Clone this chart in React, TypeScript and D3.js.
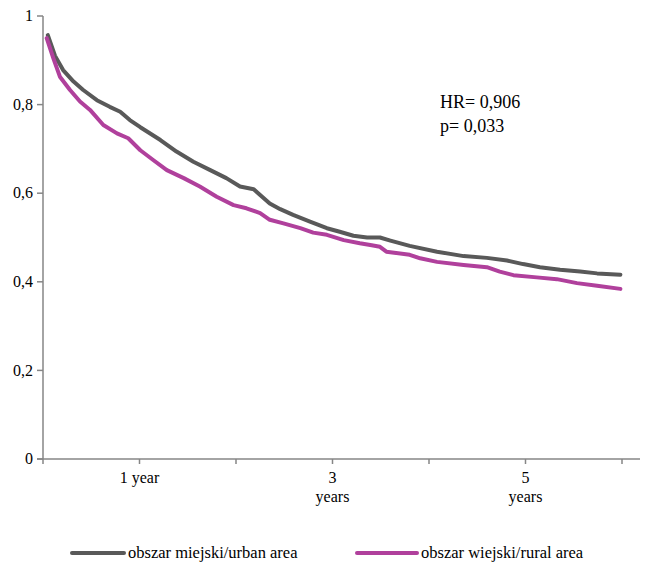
import React from "react";
import * as d3 from "d3";

const urbanMonths = [0.6, 1.5, 2.5, 3.8, 5.0, 6.7, 8.3, 9.6, 10.8, 12.1, 14.6, 16.6, 18.7, 20.8, 22.8, 24.5, 26.2, 27.0, 28.2, 29.5, 31.1, 33.2, 35.3, 36.9, 38.6, 40.3, 41.9, 43.2, 45.6, 49.0, 52.3, 55.2, 57.7, 59.7, 61.8, 64.3, 66.8, 68.9, 71.8];
const urbanSurvival = [0.957, 0.91, 0.878, 0.852, 0.833, 0.81, 0.795, 0.784, 0.765, 0.749, 0.72, 0.694, 0.671, 0.652, 0.634, 0.615, 0.609, 0.596, 0.577, 0.564, 0.551, 0.536, 0.521, 0.513, 0.504, 0.5, 0.5, 0.493, 0.481, 0.468, 0.458, 0.454, 0.448, 0.44, 0.433, 0.427, 0.423, 0.419, 0.416];

const ruralMonths = [0.46, 1.28, 2.1, 3.36, 4.6, 5.85, 7.5, 9.2, 10.6, 12.1, 13.7, 15.4, 17.5, 19.5, 21.6, 23.7, 25.3, 27.0, 28.2, 29.9, 32.0, 33.6, 35.3, 37.4, 39.4, 40.7, 41.9, 42.7, 45.6, 46.9, 49.0, 52.3, 55.2, 56.8, 58.5, 61.4, 63.9, 66.4, 68.9, 71.8];
const ruralSurvival = [0.95, 0.905, 0.863, 0.833, 0.807, 0.788, 0.754, 0.735, 0.724, 0.697, 0.675, 0.652, 0.634, 0.615, 0.592, 0.573, 0.566, 0.555, 0.54, 0.532, 0.521, 0.511, 0.506, 0.494, 0.487, 0.483, 0.479, 0.468, 0.461, 0.453, 0.445, 0.438, 0.433, 0.423, 0.415, 0.41, 0.406, 0.397, 0.391, 0.384];

const yTicks = [0, 0.2, 0.4, 0.6, 0.8, 1];
const yTickLabels = ["0", "0,2", "0,4", "0,6", "0,8", "1"];
const xTickMonths = [0, 12, 24, 36, 48, 60, 72];
const xLabelMonths = [12, 36, 60];
const xLabelLines = [["1 year"], ["3", "years"], ["5", "years"]];
const seriesNames = ["obszar miejski/urban area", "obszar wiejski/rural area"];
const seriesColors = ["#595959", "#B0409C"];
const annotation = ["HR= 0,906", "p= 0,033"];

export default function App() {
  const W = 646, H = 563;
  const x = d3.scaleLinear().domain([0, 72]).range([43, 622]);
  const y = d3.scaleLinear().domain([0, 1]).range([459, 16]);
  const line = d3.line<[number, number]>().x(d => x(d[0])).y(d => y(d[1])).curve(d3.curveLinear);
  const urban = urbanMonths.map((m, i) => [m, urbanSurvival[i]] as [number, number]);
  const rural = ruralMonths.map((m, i) => [m, ruralSurvival[i]] as [number, number]);
  const axisColor = "#868686";
  const font = "'Liberation Serif', 'Times New Roman', serif";
  const legendX = [72, 357];
  const legendW = [52, 60];
  return (
    <svg width={W} height={H} style={{ position: "absolute", left: 0, top: 0, background: "#fff" }}>
      <rect width={W} height={H} fill="#fff" />
      <line x1={43} x2={43} y1={y(1)} y2={y(0)} stroke={axisColor} strokeWidth={1.5} />
      {yTicks.map((t, i) => (
        <g key={i}>
          <line x1={37} x2={43} y1={y(t)} y2={y(t)} stroke={axisColor} strokeWidth={1.5} />
          <text x={33} y={y(t)} dy="0.33em" textAnchor="end" fontSize={16} style={{ fontFamily: font }} fill="#000">{yTickLabels[i]}</text>
        </g>
      ))}
      <line x1={37} x2={640} y1={y(0)} y2={y(0)} stroke={axisColor} strokeWidth={1.5} />
      {xTickMonths.map((m, i) => (
        <line key={i} x1={x(m)} x2={x(m)} y1={y(0)} y2={y(0) + 5} stroke={axisColor} strokeWidth={1.5} />
      ))}
      {xLabelMonths.map((m, i) => (
        <text key={i} x={x(m)} y={483} textAnchor="middle" fontSize={16} style={{ fontFamily: font }} fill="#000">
          {xLabelLines[i].map((s, j) => (
            <tspan key={j} x={x(m)} dy={j === 0 ? 0 : 19}>{s}</tspan>
          ))}
        </text>
      ))}
      <path d={line(urban) || ""} fill="none" stroke={seriesColors[0]} strokeWidth={4} strokeLinejoin="round" strokeLinecap="round" />
      <path d={line(rural) || ""} fill="none" stroke={seriesColors[1]} strokeWidth={4} strokeLinejoin="round" strokeLinecap="round" />
      {annotation.map((s, i) => (
        <text key={i} x={440} y={108 + i * 24} fontSize={18} style={{ fontFamily: font }} fill="#000">{s}</text>
      ))}
      {seriesNames.map((s, i) => {
        const lx = legendX[i];
        return (
          <g key={i}>
            <line x1={lx} x2={lx + legendW[i]} y1={553} y2={553} stroke={seriesColors[i]} strokeWidth={4} strokeLinecap="round" />
            <text x={lx + legendW[i] + 4} y={558} fontSize={16.5} style={{ fontFamily: font }} fill="#000">{s}</text>
          </g>
        );
      })}
    </svg>
  );
}
